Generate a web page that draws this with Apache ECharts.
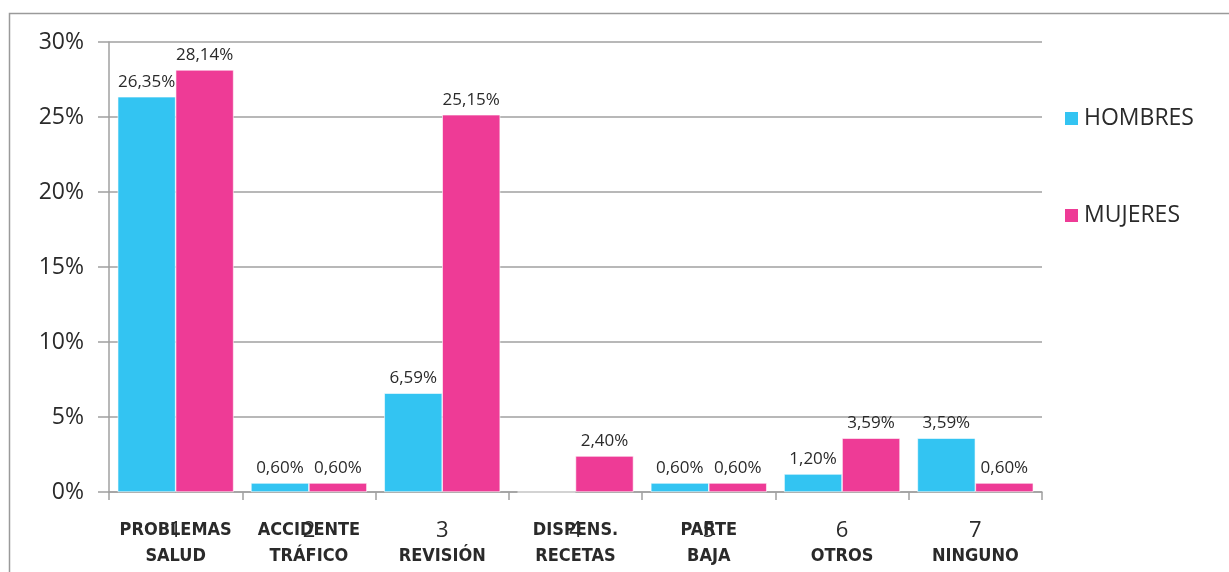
<!DOCTYPE html>
<html>
<head>
<meta charset="utf-8">
<script src="https://cdn.jsdelivr.net/npm/echarts@6/dist/echarts.min.js"></script>
<style>
  html, body { margin: 0; padding: 0; background: #fff; }
  #chart { width: 1229px; height: 572px; }
</style>
</head>
<body>
<div id="chart"></div>
<script>
// datos del grafico
var categorias = ['1', '2', '3', '4', '5', '6', '7'];
var nombres = ['PROBLEMAS\nSALUD', 'ACCIDENTE\nTRÁFICO', '\nREVISIÓN', 'DISPENS.\nRECETAS', 'PARTE\nBAJA', '\nOTROS', '\nNINGUNO'];
var hombres = [26.35, 0.60, 6.59, 0, 0.60, 1.20, 3.59];
var mujeres = [28.14, 0.60, 25.15, 2.40, 0.60, 3.59, 0.60];
var ticksY = [0, 5, 10, 15, 20, 25, 30];

var fuente = '"Open Sans", "Noto Sans", sans-serif';

function pct(p) {
    if (!p.value) return '';
    return p.value.toFixed(2).replace('.', ',') + '%';
}

var myChart = echarts.init(document.getElementById('chart'));

var option = {
    animation: false,
    textStyle: { fontFamily: fuente },
    graphic: [{
        type: 'rect',
        shape: { x: 9.5, y: 13.5, width: 1240, height: 600 },
        style: { fill: 'none', stroke: '#9a9a9a', lineWidth: 1.5 },
        silent: true
    }],
    legend: {
        orient: 'vertical',
        left: 1058,
        top: 102,
        itemGap: 74,
        itemWidth: 15,
        itemHeight: 15,
        icon: 'rect',
        textStyle: { fontSize: 23, color: '#2a2a2a', fontFamily: fuente },
        data: ['HOMBRES', 'MUJERES']
    },
    grid: { left: 109, right: 187, top: 42, bottom: 80, containLabel: false },
    xAxis: [{
        type: 'category',
        data: categorias,
        axisLine: { lineStyle: { color: '#a0a0a0', width: 1.5 } },
        axisTick: { show: true, length: 8, lineStyle: { color: '#a0a0a0', width: 1.5 } },
        axisLabel: { interval: 0, fontSize: 22, color: '#2a2a2a', margin: 28, fontFamily: fuente }
    }, {
        type: 'category',
        data: nombres,
        position: 'bottom',
        axisLine: { show: false },
        axisTick: { show: false },
        axisLabel: {
            interval: 0, hideOverlap: false,
            fontSize: 18, fontWeight: 'bold', color: '#2a2a2a', lineHeight: 26, margin: 25,
            fontFamily: '"Liberation Sans Narrow", "DejaVu Sans Condensed", sans-serif'
        }
    }],
    yAxis: {
        type: 'value',
        min: ticksY[0],
        max: ticksY[ticksY.length - 1],
        interval: 5,
        axisLine: { show: true, lineStyle: { color: '#a0a0a0', width: 1.5 } },
        axisTick: { show: true, length: 11, lineStyle: { color: '#a0a0a0', width: 1.5 } },
        splitLine: { lineStyle: { color: '#a0a0a0', width: 1.5 } },
        axisLabel: { fontSize: 23, color: '#2a2a2a', margin: 25, formatter: '{value}%', fontFamily: fuente }
    },
    series: [{
        name: 'HOMBRES',
        type: 'bar',
        data: hombres,
        barGap: '0%',
        barCategoryGap: '13%',
        itemStyle: { color: '#33c4f2', borderColor: '#ffffff', borderWidth: 0.6 },
        label: { show: true, position: 'top', distance: 6, fontSize: 17, color: '#2a2a2a', formatter: pct }
    }, {
        name: 'MUJERES',
        type: 'bar',
        data: mujeres,
        barGap: '0%',
        barCategoryGap: '13%',
        itemStyle: { color: '#ee3b96', borderColor: '#ffffff', borderWidth: 0.6 },
        label: { show: true, position: 'top', distance: 6, fontSize: 17, color: '#2a2a2a', formatter: pct }
    }]
};

myChart.setOption(option);
</script>
</body>
</html>
